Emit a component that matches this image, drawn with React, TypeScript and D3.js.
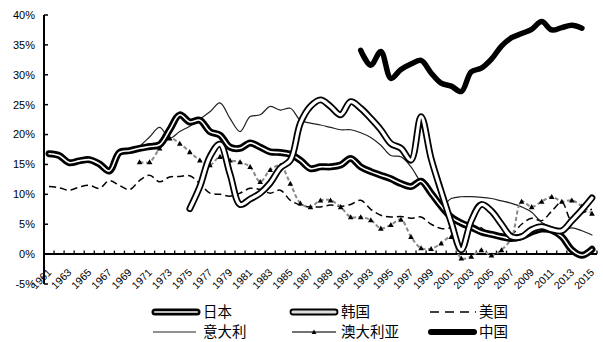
import React from "react";
import * as d3 from "d3";

const years = [
  1961, 1962, 1963, 1964, 1965, 1966, 1967, 1968, 1969, 1970,
  1971, 1972, 1973, 1974, 1975, 1976, 1977, 1978, 1979, 1980,
  1981, 1982, 1983, 1984, 1985, 1986, 1987, 1988, 1989, 1990,
  1991, 1992, 1993, 1994, 1995, 1996, 1997, 1998, 1999, 2000,
  2001, 2002, 2003, 2004, 2005, 2006, 2007, 2008, 2009, 2010,
  2011, 2012, 2013, 2014, 2015,
];
const tickLabelYears = years.filter((_, i) => i % 2 === 0);
const yTicks = [-5, 0, 5, 10, 15, 20, 25, 30, 35, 40];

// 日本 1961–2015
const japanStart = 1961;
const japan = [
  16.8, 16.5, 15.3, 15.6, 15.8, 15.1, 13.9, 17.0, 17.3, 17.7,
  18.0, 18.3, 20.8, 23.3, 22.1, 22.4, 20.5, 19.9, 17.9, 17.7,
  18.6, 17.9, 17.1, 17.0, 16.7, 15.7, 14.3, 14.6, 14.6, 14.9,
  16.0, 14.6, 13.8, 13.2, 12.6, 11.8, 11.3, 12.2, 10.2, 8.0,
  6.2, 5.2, 4.5, 3.7, 3.3, 2.9, 2.6, 2.9, 3.7, 4.2,
  4.0, 2.9, 0.7, -0.2, 0.8,
];
// 韩国 1975–2015
const koreaStart = 1975;
const korea = [
  7.6, 11.3, 16.3, 18.4, 13.4, 8.3,
  9.2, 10.2, 11.9, 14.4, 15.7, 21.9, 24.7, 25.8, 24.7, 23.3,
  25.5, 24.4, 22.7, 20.8, 18.5, 17.7, 15.7, 23.0, 16.0, 10.5,
  5.3, 0.7, 5.6, 8.3, 7.2, 5.0, 2.9, 2.9, 4.1, 4.6,
  4.1, 3.9, 5.6, 7.4, 9.4,
];
// 美国 1961–2015
const usStart = 1961;
const us = [
  11.3, 11.1, 10.7, 11.2, 11.5, 11.0, 12.3, 11.5, 10.8, 12.3,
  13.2, 12.1, 12.9, 13.0, 13.1, 11.8, 10.2, 10.0, 9.7, 10.2,
  11.0, 10.8, 10.2, 10.7, 9.0, 8.2, 7.9, 7.9, 8.2, 8.0,
  8.3, 9.0, 7.5, 6.5, 6.2, 6.3, 6.0, 6.2, 5.0, 4.3,
  4.4, 5.0, 4.7, 4.4, 3.0, 3.3, 3.3, 5.0, 6.0, 5.6,
  7.2, 8.7, 5.5, 6.8, 7.5,
];
// 意大利 1970–2015
const italyStart = 1970;
const italy = [
  18.0,
  19.6, 21.2, 19.4, 20.5, 21.4, 22.6, 23.8, 25.3, 22.7, 20.5,
  23.0, 23.3, 24.7, 24.1, 24.4, 22.4, 21.9, 21.6, 21.2, 20.8,
  20.8, 20.3, 19.5, 18.2, 16.5, 16.3, 14.6, 11.9, 9.9, 8.0,
  9.3, 9.6, 9.6, 9.5, 9.3, 8.9, 8.5, 7.9, 7.0, 5.3,
  4.5, 4.0, 4.4, 3.9, 3.2,
];
// 澳大利亚 1970–2015
const australiaStart = 1970;
const australia = [
  15.4,
  15.4, 17.7, 19.4, 18.5, 17.1, 15.7, 14.9, 16.3, 15.7, 15.4,
  14.6, 12.1, 14.1, 14.8, 11.8, 8.5, 7.9, 9.0, 9.0, 7.9,
  6.2, 6.2, 5.7, 4.3, 4.9, 5.8, 2.9, 1.0, 0.9, 1.8,
  2.9, -0.7, -0.4, 0.7, -0.2, 0.7, 2.7, 8.8, 7.9, 8.8,
  9.6, 8.8, 9.0, 8.0, 6.8,
];
// 中国 1992–2014
const chinaStart = 1992;
const china = [
  34.1, 31.6, 33.9, 29.4, 30.9, 31.8, 32.4, 30.3, 28.6,
  28.1, 27.2, 30.5, 31.1, 32.6, 34.8, 36.2, 36.9, 37.6, 38.9,
  37.5, 37.9, 38.3, 37.8,
];

const W = 603;
const H = 342;
const axisFont = "'Liberation Sans', Arial, sans-serif";
const cjkFont = "'Noto Sans CJK SC', sans-serif";

type Pt = [number, number];
const toPts = (start: number, vals: number[]): Pt[] => vals.map((v, i) => [start + i, v]);

export default function App() {
  const x = d3.scaleBand<number>().domain(years).range([44, 597]).padding(0);
  const y = d3.scaleLinear().domain([-5, 40]).range([284, 15]);
  const bw = x.bandwidth();
  const cx = (yr: number) => (x(yr) as number) + bw / 2;

  const line = d3
    .line<Pt>()
    .x((d) => cx(d[0]))
    .y((d) => y(d[1]))
    .curve(d3.curveCatmullRom.alpha(0.5));

  const jp = line(toPts(japanStart, japan)) || "";
  const kr = line(toPts(koreaStart, korea)) || "";
  const usP = line(toPts(usStart, us)) || "";
  const it = line(toPts(italyStart, italy)) || "";
  const auPts = toPts(australiaStart, australia);
  const au = line(auPts) || "";
  const cn = line(toPts(chinaStart, china)) || "";

  const tri = (px: number, py: number, s = 2.8) =>
    `M${px},${py - s}L${px + s},${py + s * 0.8}L${px - s},${py + s * 0.8}Z`;

  const boundaries = years.map((yr) => x(yr) as number).concat([597]);

  const legendRow1 = 312;
  const legendRow2 = 332;

  return (
    <svg
      width={W}
      height={H}
      viewBox={`0 0 ${W} ${H}`}
      style={{ position: "absolute", left: 0, top: 0, background: "#fff" }}
    >
      <rect x={0} y={0} width={W} height={H} fill="#fff" />
      {/* Y axis */}
      <line x1={44} x2={44} y1={y(40)} y2={y(-5)} stroke="#000" strokeWidth={2} />
      {yTicks.map((t) => (
        <g key={t}>
          <line x1={44} x2={48} y1={y(t)} y2={y(t)} stroke="#000" strokeWidth={1.5} />
          <text
            x={35}
            y={y(t)}
            dy="0.35em"
            textAnchor="end"
            fontSize={11}
            fontFamily={axisFont}
            fill="#000"
          >
            {t}%
          </text>
        </g>
      ))}
      {/* X axis */}
      <line x1={44} x2={597} y1={y(0)} y2={y(0)} stroke="#000" strokeWidth={2} />
      {boundaries.map((bx, i) => (
        <line key={i} x1={bx} x2={bx} y1={y(0)} y2={y(0) - 3.5} stroke="#000" strokeWidth={1.3} />
      ))}
      {tickLabelYears.map((yr) => (
        <text
          key={yr}
          transform={`translate(${cx(yr) + 3},${y(0) + 19}) rotate(-45)`}
          textAnchor="end"
          fontSize={10.5}
          fontFamily={axisFont}
          fill="#000"
        >
          {yr}
        </text>
      ))}

      {/* Series */}
      <g fill="none" strokeLinejoin="round" strokeLinecap="round">
        <path d={usP} stroke="#000" strokeWidth={1.5} strokeDasharray="7 4" strokeLinecap="butt" />
        <path d={it} stroke="#222" strokeWidth={1.2} />
        <path d={au} stroke="#8a8a8a" strokeWidth={2} strokeDasharray="4 2.5" strokeLinecap="butt" />
        {auPts.map((p, i) => (
          <path key={i} d={tri(cx(p[0]), y(p[1]))} fill="#000" stroke="none" />
        ))}
        <path d={jp} stroke="#000" strokeWidth={7} />
        <path d={jp} stroke="#fff" strokeWidth={1.6} />
        <path d={kr} stroke="#000" strokeWidth={6.8} />
        <path d={kr} stroke="#fff" strokeWidth={3.2} />
        <path d={cn} stroke="#000" strokeWidth={5.5} />
      </g>

      {/* Legend */}
      <g fontFamily={cjkFont} fontSize={14.5} fill="#000">
        {/* 日本 */}
        <line x1={155} x2={197} y1={legendRow1} y2={legendRow1} stroke="#000" strokeWidth={7} strokeLinecap="round" />
        <line x1={155} x2={197} y1={legendRow1} y2={legendRow1} stroke="#bbb" strokeWidth={2.2} strokeLinecap="round" />
        <text x={203} y={legendRow1} dy="0.36em">日本</text>
        {/* 韩国 */}
        <line x1={293} x2={335} y1={legendRow1} y2={legendRow1} stroke="#000" strokeWidth={6.8} strokeLinecap="round" />
        <line x1={293} x2={335} y1={legendRow1} y2={legendRow1} stroke="#ddd" strokeWidth={3.2} strokeLinecap="round" />
        <text x={341} y={legendRow1} dy="0.36em">韩国</text>
        {/* 美国 */}
        <line x1={430} x2={476} y1={legendRow1} y2={legendRow1} stroke="#000" strokeWidth={1.5} strokeDasharray="9 6" />
        <text x={479} y={legendRow1} dy="0.36em">美国</text>
        {/* 意大利 */}
        <line x1={153} x2={196} y1={legendRow2} y2={legendRow2} stroke="#222" strokeWidth={1.2} />
        <text x={203} y={legendRow2} dy="0.36em">意大利</text>
        {/* 澳大利亚 */}
        <line x1={292} x2={336} y1={legendRow2} y2={legendRow2} stroke="#444" strokeWidth={1.6} />
        <path d={tri(314, legendRow2, 2.4)} fill="#000" />
        <text x={341} y={legendRow2} dy="0.36em">澳大利亚</text>
        {/* 中国 */}
        <line x1={431} x2={474} y1={legendRow2} y2={legendRow2} stroke="#000" strokeWidth={6} strokeLinecap="round" />
        <text x={479} y={legendRow2} dy="0.36em">中国</text>
      </g>
    </svg>
  );
}
